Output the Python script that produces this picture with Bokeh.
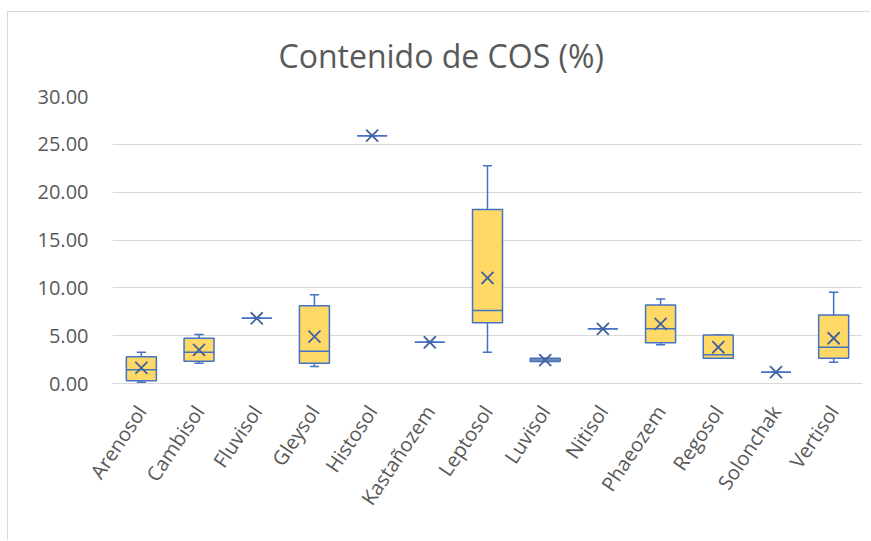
from bokeh.plotting import figure
from bokeh.models import Range1d, FixedTicker, NumeralTickFormatter, ColumnDataSource
from bokeh.embed import file_html
from bokeh.resources import INLINE

categories = ["Arenosol", "Cambisol", "Fluvisol", "Gleysol", "Histosol", "Kastañozem",
              "Leptosol", "Luvisol", "Nitisol", "Phaeozem", "Regosol", "Solonchak", "Vertisol"]
whisker_low = [0.14, 2.12, 6.82, 1.77, 25.9, 4.31, 3.27, 2.30, 5.71, 4.04, 2.64, 1.18, 2.22]
q1 = [0.30, 2.33, 6.82, 2.12, 25.9, 4.31, 6.34, 2.30, 5.71, 4.25, 2.64, 1.18, 2.64]
median = [1.43, 3.27, 6.82, 3.37, 25.9, 4.31, 7.62, 2.45, 5.71, 5.71, 3.00, 1.18, 3.79]
q3 = [2.80, 4.73, 6.82, 8.14, 25.9, 4.31, 18.20, 2.65, 5.71, 8.21, 5.08, 1.18, 7.17]
whisker_high = [3.27, 5.11, 6.82, 9.29, 25.9, 4.31, 22.75, 2.65, 5.71, 8.84, 5.08, 1.18, 9.53]
mean = [1.64, 3.52, 6.82, 4.90, 25.9, 4.31, 11.03, 2.45, 5.71, 6.23, 3.79, 1.18, 4.73]
y_ticks = [0, 5, 10, 15, 20, 25, 30]

FILL = "#FFD966"
EDGE = "#4472C4"
MEANC = "#44619f"
TXT = "#595959"
FONT = "Open Sans"

xs = [i + 0.5 for i in range(len(categories))]
hw = 0.26
cw = 0.08
src = ColumnDataSource(dict(
    x=xs, left=[x - hw for x in xs], right=[x + hw for x in xs],
    cl=[x - cw for x in xs], cr=[x + cw for x in xs],
    wlo=whisker_low, q1=q1, med=median, q3=q3, whi=whisker_high, mean=mean,
))

p = figure(width=863, height=529, output_backend="svg", toolbar_location=None,
           x_range=Range1d(0, len(categories)), y_range=Range1d(0, 30),
           min_border_left=104, min_border_right=9, min_border_top=84, min_border_bottom=158,
           title="Contenido de COS (%)")
p.margin = (11, 0, 0, 7)
p.styles = {"border-left": "1px solid #d9d9d9", "border-top": "1px solid #d9d9d9"}
p.outline_line_color = None
p.background_fill_color = "white"
p.border_fill_color = "white"

p.title.text_font = FONT
p.title.text_font_size = "32px"
p.title.text_font_style = "normal"
p.title.text_color = TXT
p.title.align = "left"
p.title.offset = 166
p.title.standoff = 39

# whiskers
p.segment(x0="x", x1="x", y0="q3", y1="whi", source=src, line_color=EDGE, line_width=1.5)
p.segment(x0="x", x1="x", y0="q1", y1="wlo", source=src, line_color=EDGE, line_width=1.5)
p.segment(x0="cl", x1="cr", y0="whi", y1="whi", source=src, line_color=EDGE, line_width=1.5)
p.segment(x0="cl", x1="cr", y0="wlo", y1="wlo", source=src, line_color=EDGE, line_width=1.5)
# boxes
p.quad(left="left", right="right", bottom="q1", top="q3", source=src,
       fill_color=FILL, line_color=EDGE, line_width=1.5)
# medians
p.segment(x0="left", x1="right", y0="med", y1="med", source=src, line_color=EDGE, line_width=1.5)
# means
p.scatter(x="x", y="mean", source=src, marker="x", size=17, line_color=MEANC, line_width=1.8)

# axes
p.xgrid.grid_line_color = None
p.ygrid.grid_line_color = "#d9d9d9"
p.ygrid.grid_line_width = 1.2
p.yaxis.ticker = FixedTicker(ticks=y_ticks)
p.yaxis.formatter = NumeralTickFormatter(format="0.00")
p.yaxis.axis_line_color = None
p.yaxis.major_tick_line_color = None
p.yaxis.minor_tick_line_color = None
p.yaxis.major_label_text_font = FONT
p.yaxis.major_label_text_font_size = "20px"
p.yaxis.major_label_text_color = TXT
p.yaxis.major_label_standoff = 18

p.xaxis.ticker = FixedTicker(ticks=xs)
p.xaxis.major_label_overrides = {x: c for x, c in zip(xs, categories)}
p.xaxis.axis_line_color = "#d9d9d9"
p.xaxis.axis_line_width = 1.2
p.xaxis.major_tick_line_color = None
p.xaxis.minor_tick_line_color = None
p.xaxis.major_label_orientation = 0.98
p.xaxis.major_label_text_font = FONT
p.xaxis.major_label_text_font_size = "20px"
p.xaxis.major_label_text_color = TXT
p.xaxis.major_label_standoff = 18

open("out.html", "w").write(file_html(p, INLINE))
